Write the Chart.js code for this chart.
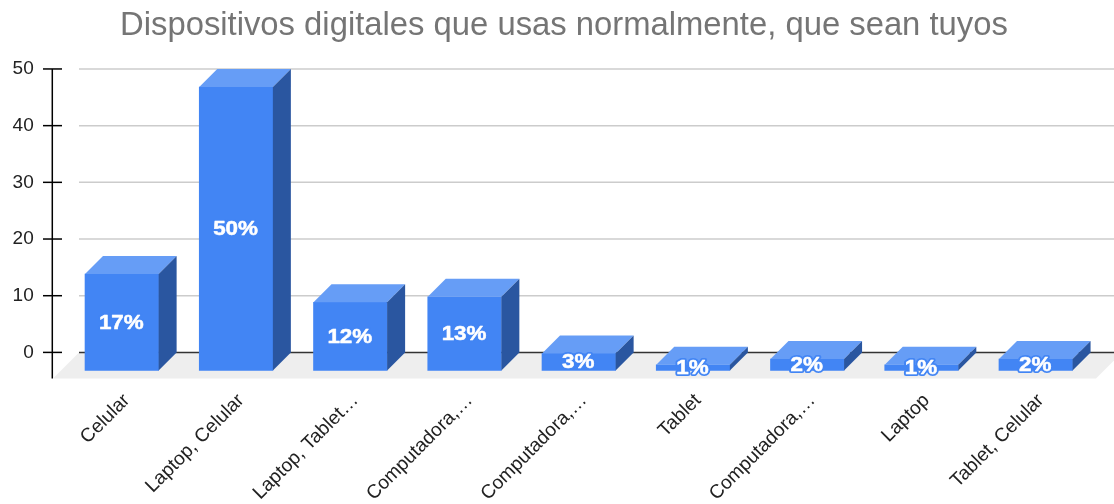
<!DOCTYPE html>
<html>
<head>
<meta charset="utf-8">
<script src="https://cdn.jsdelivr.net/npm/chart.js@4"></script>
<style>
  html, body { margin: 0; padding: 0; background: #fff; }
  #wrap { width: 1114px; height: 504px; }
</style>
</head>
<body>
<div id="wrap"><canvas id="chart"></canvas></div>
<script>
const categories = ['Celular', 'Laptop, Celular', 'Laptop, Tablet…', 'Computadora,…', 'Computadora,…', 'Tablet', 'Computadora,…', 'Laptop', 'Tablet, Celular'];
const values = [17, 50, 12, 13, 3, 1, 2, 1, 2];
const yTicks = [0, 10, 20, 30, 40, 50];

const depth = 18;
const colors = { front: '#4285f4', top: '#669df6', side: '#2a56a0', floor: '#eeeeee', grid: '#cccccc', zero: '#333333', axis: '#000000' };

function face(ctx, pts, color) {
  ctx.fillStyle = color;
  ctx.beginPath();
  pts.forEach((p, i) => i ? ctx.lineTo(p[0], p[1]) : ctx.moveTo(p[0], p[1]));
  ctx.closePath();
  ctx.fill();
}

// floor, grid and the y axis sit behind the bars
const backdrop = {
  id: 'backdrop',
  afterLayout(chart) {
    // title is centred a bit right of the canvas middle
    chart.titleBlock.left = 35;
  },
  beforeDatasetsDraw(chart) {
    const ctx = chart.ctx;
    const y = chart.scales.y;
    const zero = y.getPixelForValue(0);
    ctx.save();
    face(ctx, [[53, zero + 26], [79, zero], [1114, zero], [1114, zero + 8], [1096, zero + 26]], colors.floor);
    yTicks.forEach(t => {
      const py = y.getPixelForValue(t);
      ctx.strokeStyle = t === 0 ? colors.zero : colors.grid;
      ctx.lineWidth = 1.5;
      ctx.beginPath();
      ctx.moveTo(79, py);
      ctx.lineTo(1114, py);
      ctx.stroke();
      ctx.strokeStyle = colors.axis;
      ctx.lineWidth = 1.5;
      ctx.beginPath();
      ctx.moveTo(43, py);
      ctx.lineTo(62, py);
      ctx.stroke();
    });
    ctx.strokeStyle = colors.axis;
    ctx.lineWidth = 1.5;
    ctx.beginPath();
    ctx.moveTo(52.3, y.getPixelForValue(50));
    ctx.lineTo(52.3, zero + 26);
    ctx.stroke();
    ctx.restore();
  }
};

// real bars become the front faces, moved forward by the depth
const bars3d = {
  id: 'bars3d',
  beforeDatasetDraw(chart) {
    chart.ctx.save();
    chart.ctx.translate(0, depth);
  },
  afterDatasetDraw(chart, args) {
    const ctx = chart.ctx;
    ctx.restore();
    args.meta.data.forEach(bar => {
      const l = bar.x - bar.width / 2;
      const r = bar.x + bar.width / 2;
      const t = bar.y + depth;
      const b = bar.base + depth;
      face(ctx, [[l, t], [l + depth, t - depth], [r + depth, t - depth], [r, t]], colors.top);
      face(ctx, [[r, t], [r + depth, t - depth], [r + depth, b - depth], [r, b]], colors.side);
    });
    args.meta.data.forEach((bar, i) => {
      const text = values[i] + '%';
      ctx.save();
      ctx.translate(bar.x - 0.5, (bar.y + bar.base) / 2 + depth + 1);
      ctx.scale(1.12, 1); // labels are wider than plain Arial bold
      ctx.font = 'bold 20px "Liberation Sans"';
      ctx.textAlign = 'center';
      ctx.textBaseline = 'middle';
      ctx.lineJoin = 'round';
      ctx.lineWidth = 4;
      ctx.strokeStyle = colors.front;
      ctx.strokeText(text, 0, 0);
      ctx.lineWidth = 0.5;
      ctx.strokeStyle = '#ffffff';
      ctx.strokeText(text, 0, 0);
      ctx.fillStyle = '#ffffff';
      ctx.fillText(text, 0, 0);
      ctx.restore();
    });
  }
};

new Chart(document.getElementById('chart'), {
  type: 'bar',
  data: {
    labels: categories,
    datasets: [{
      data: values,
      backgroundColor: colors.front,
      barThickness: 73.6,
      clip: false,
    }],
  },
  options: {
    responsive: true,
    maintainAspectRatio: false,
    animation: false,
    layout: { padding: { left: 0, right: 21.1, top: 0, bottom: 0 } },
    plugins: {
      legend: { display: false },
      tooltip: { enabled: false },
      title: {
        display: true,
        text: 'Dispositivos digitales que usas normalmente, que sean tuyos',
        color: '#757575',
        font: { family: '"Liberation Sans"', size: 32.8, weight: 'normal', lineHeight: 1.2 },
        padding: { top: 6, bottom: 23.6 },
      },
    },
    scales: {
      x: {
        grid: { display: false, drawTicks: false },
        border: { display: false },
        ticks: {
          autoSkip: false,
          minRotation: 45,
          maxRotation: 45,
          padding: 37,
          labelOffset: 5,
          color: '#222222',
          font: { family: '"Liberation Sans"', size: 19.2 },
        },
        afterFit(scale) {
          scale.height = 151.6;
          scale.paddingLeft = 0;
          scale.paddingRight = 0;
        },
      },
      y: {
        min: 0,
        max: 50,
        grid: { display: false, drawTicks: false },
        border: { display: false },
        afterBuildTicks(scale) {
          scale.ticks = yTicks.map(v => ({ value: v }));
        },
        ticks: {
          padding: 31,
          color: '#222222',
          font: { family: '"Liberation Sans"', size: 19 },
        },
        afterFit(scale) {
          scale.width = 64.7;
        },
      },
    },
  },
  plugins: [backdrop, bars3d],
});
</script>
</body>
</html>
